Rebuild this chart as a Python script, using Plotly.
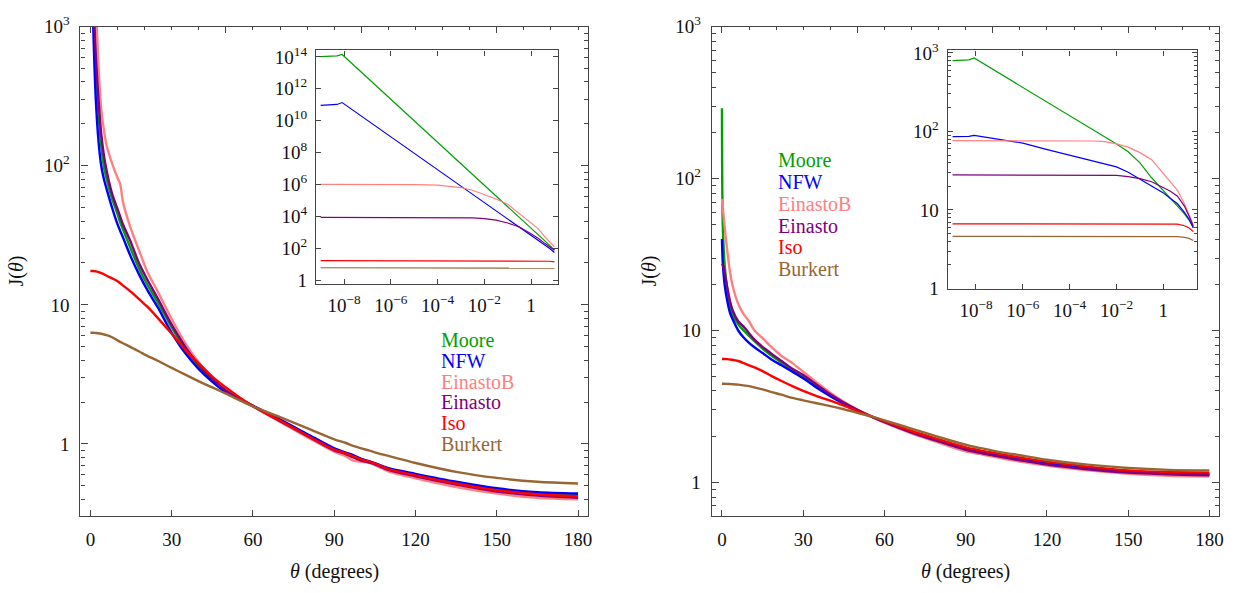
import plotly.graph_objects as go

W, H = 1242, 593

SERIES = ["Moore", "NFW", "EinastoB", "Einasto", "Iso", "Burkert"]
COLORS = ["#00A000", "#0000FF", "#FF8080", "#800080", "#FF0000", "#996633"]

# ---------------- left main panel ----------------
THETA_L = [0, 0.5, 1, 1.5, 2, 3, 4, 5, 6, 8, 10, 11, 12, 15, 18, 21, 25, 30, 35, 40,
           45, 50, 60, 70, 80, 90, 94, 97, 100, 103, 106, 110, 120, 135, 150, 165, 180]
MOORE_L = [1e5, 5000, 2000, 1000, 560, 240, 140, 98, 80, 58, 45, 39, 35, 25, 18.2, 14, 10.3, 6.9, 4.8, 3.6,
           2.9, 2.4, 1.88, 1.49, 1.17, 0.925, 0.865, 0.825, 0.775, 0.745, 0.71, 0.665, 0.6, 0.525, 0.47, 0.44, 0.43]
NFW_L = [1e5, 3000, 1100, 520, 300, 150, 100, 80, 68, 50, 38, 34, 30.6, 22, 16.5, 12.8, 9.5, 6.3, 4.5, 3.45,
         2.8, 2.35, 1.88, 1.5, 1.18, 0.93, 0.87, 0.83, 0.78, 0.75, 0.715, 0.67, 0.61, 0.535, 0.48, 0.45, 0.44]
EINB_L = [1e5, 1e4, 4500, 2500, 1500, 520, 256, 180, 140, 104, 82, 74, 55, 35, 24.5, 17.3, 12.3, 7.9, 5.3, 3.85,
          3.0, 2.45, 1.86, 1.44, 1.12, 0.88, 0.82, 0.76, 0.745, 0.73, 0.69, 0.635, 0.565, 0.49, 0.44, 0.41, 0.40]
EIN_L = [1e5, 4000, 1800, 1000, 620, 300, 170, 118, 92, 63, 49, 43, 38, 28, 19.8, 15.2, 11, 7.2, 5.0, 3.7,
         2.95, 2.42, 1.87, 1.46, 1.14, 0.9, 0.85, 0.8, 0.76, 0.735, 0.7, 0.65, 0.585, 0.51, 0.455, 0.425, 0.41]
ISO_L = [17.5, 17.5, 17.5, 17.45, 17.4, 17.2, 16.9, 16.6, 16.2, 15.5, 14.8, 14.3, 13.8, 12.4, 11, 9.7, 8.0, 6.2, 4.75, 3.8,
         3.05, 2.55, 1.87, 1.47, 1.15, 0.91, 0.86, 0.815, 0.775, 0.745, 0.71, 0.66, 0.595, 0.52, 0.465, 0.435, 0.42]
BUR_L = [6.3, 6.3, 6.3, 6.29, 6.28, 6.25, 6.2, 6.12, 6.05, 5.85, 5.55, 5.42, 5.3, 4.95, 4.62, 4.3, 3.95, 3.52, 3.15, 2.82,
         2.55, 2.3, 1.86, 1.56, 1.3, 1.08, 1.02, 0.97, 0.93, 0.895, 0.86, 0.82, 0.73, 0.63, 0.57, 0.535, 0.52]

# ---------------- right main panel ----------------
THETA_R = [0, 0.3, 1, 2, 3, 4, 6, 8, 10, 12, 15, 18, 22, 26, 30, 35, 40, 45, 50, 55,
           60, 70, 80, 90, 95, 98, 100, 105, 110, 120, 135, 150, 165, 180]
MOORE_R = [290, 50, 27, 18.5, 14.5, 12.6, 11, 10, 9.2, 8.5, 7.6, 6.9, 6.15, 5.5, 5.0, 4.3, 3.75, 3.33, 3.0, 2.72,
           2.5, 2.15, 1.89, 1.67, 1.6, 1.56, 1.535, 1.48, 1.43, 1.34, 1.245, 1.185, 1.15, 1.135]
NFW_R = [40, 28, 20, 15.5, 13, 11.8, 10, 9.0, 8.3, 7.75, 7.1, 6.5, 5.9, 5.35, 4.85, 4.2, 3.7, 3.3, 2.98, 2.72,
         2.5, 2.14, 1.88, 1.66, 1.59, 1.555, 1.53, 1.47, 1.42, 1.33, 1.24, 1.18, 1.145, 1.13]
EINB_R = [73.5, 65, 48, 33, 24, 19.5, 15, 12.8, 11.5, 10.0, 8.9, 7.85, 6.8, 6.1, 5.35, 4.55, 3.9, 3.4, 3.02, 2.72,
          2.47, 2.1, 1.83, 1.6, 1.54, 1.5, 1.48, 1.42, 1.37, 1.29, 1.2, 1.14, 1.105, 1.095]
EIN_R = [27.5, 27, 24, 19, 15.5, 13.5, 11.5, 10.6, 9.6, 8.7, 7.8, 7.1, 6.3, 5.6, 5.1, 4.4, 3.8, 3.35, 3.0, 2.72,
         2.49, 2.13, 1.86, 1.64, 1.57, 1.53, 1.51, 1.45, 1.4, 1.31, 1.22, 1.16, 1.13, 1.115]
ISO_R = [6.5, 6.5, 6.5, 6.48, 6.45, 6.4, 6.3, 6.1, 5.9, 5.72, 5.4, 5.05, 4.65, 4.3, 4.0, 3.7, 3.45, 3.2, 2.95, 2.73,
         2.53, 2.18, 1.92, 1.7, 1.63, 1.59, 1.57, 1.51, 1.46, 1.37, 1.27, 1.2, 1.17, 1.16]
BUR_R = [4.46, 4.46, 4.46, 4.45, 4.44, 4.43, 4.4, 4.35, 4.3, 4.22, 4.1, 3.95, 3.78, 3.6, 3.47, 3.32, 3.18, 3.03, 2.87, 2.72,
         2.56, 2.26, 1.99, 1.77, 1.69, 1.65, 1.62, 1.56, 1.51, 1.41, 1.31, 1.245, 1.21, 1.2]

# ---------------- left inset ----------------
THETA_IL = [1e-9, 2.5e-9, 5e-9, 8.3e-9, 1e-7, 1e-6, 1e-5, 1e-4, 1e-3, 3.16e-3, 1e-2, 3.16e-2, 0.1, 0.316,
            1, 2, 4, 6.3, 10]
MOORE_IL = [1.05e14, 1.07e14, 1.15e14, 1.41e14, 5.0e12, 2.24e11, 1.0e10, 4.57e8, 2.09e7, 4.37e6, 9.33e5, 2.0e5,
            4.27e4, 9.12e3, 1.91e3, 759, 295, 158, 79]
NFW_IL = [9.33e10, 9.55e10, 1.05e11, 1.38e11, 1.07e10, 1.0e9, 9.33e7, 8.71e6, 8.13e5, 2.51e5, 7.59e4, 2.34e4,
          7.08e3, 2.14e3, 661, 316, 158, 100, 56]
EINB_IL = [1.05e6, 1.05e6, 1.05e6, 1.05e6, 1.05e6, 1.05e6, 1.02e6, 9.33e5, 6.61e5, 4.47e5, 2.51e5, 1.26e5,
           6.03e4, 1.58e4, 4.47e3, 1.78e3, 513, 251, 126]
EIN_IL = [8.91e3, 8.91e3, 8.91e3, 8.91e3, 8.91e3, 8.91e3, 8.91e3, 8.91e3, 8.91e3, 8.32e3, 7.41e3, 6.03e3,
          3.98e3, 2.24e3, 851, 447, 204, 126, 79]
ISO_IL = [17.5, 17.5, 17.5, 17.5, 17.5, 17.5, 17.5, 17.5, 17.5, 17.5, 17.5, 17.5, 17.5, 17.5, 17.5,
          17.2, 16.8, 16.0, 14.8]
BUR_IL = [6.3, 6.3, 6.3, 6.3, 6.3, 6.3, 6.3, 6.3, 6.3, 6.3, 6.3, 6.3, 6.3, 6.3, 6.3,
          6.25, 6.2, 6.1, 5.9]

# ---------------- right inset ----------------
THETA_IR = [1e-9, 2.5e-9, 5e-9, 8.3e-9, 1e-7, 1e-6, 1e-5, 1e-4, 1e-3, 3.16e-3, 1e-2, 3.16e-2, 0.1, 0.316,
            1, 2, 4, 7.9, 12.6, 19]
MOORE_IR = [798, 804, 813, 859, 550, 363, 240, 158, 105, 85, 69, 55, 39.8, 25.7, 17.8, 14.1, 11.2, 8.9, 7.4, 5.96]
NFW_IR = [86, 86, 86.5, 89, 79, 71, 59, 50, 41.7, 38.5, 35.4, 30.2, 24.5, 20, 16.5, 14, 12, 9.3, 7.6, 5.96]
EINB_IR = [76.4, 76.4, 76.4, 76.4, 76.4, 76.4, 76.4, 76.2, 75.5, 74, 69.5, 63, 53.7, 43.7, 28.8, 22.5, 17.8, 12,
           8.9, 6.5]
EIN_IR = [28, 28, 28, 28, 28, 28, 28, 28, 28, 28, 27.5, 26.6, 25.1, 22.9, 19, 17.3, 15, 11.2, 8.3, 6.2]
ISO_IR = [6.67, 6.67, 6.67, 6.67, 6.67, 6.67, 6.67, 6.67, 6.67, 6.67, 6.67, 6.67, 6.67, 6.67, 6.67,
          6.65, 6.6, 6.3, 5.9, 5.3]
BUR_IR = [4.62, 4.62, 4.62, 4.62, 4.62, 4.62, 4.62, 4.62, 4.62, 4.62, 4.62, 4.62, 4.62, 4.62, 4.62,
          4.61, 4.58, 4.48, 4.35, 4.08]

X_TICKS = [0, 30, 60, 90, 120, 150, 180]
INSET_X_TICKS = [1e-8, 1e-6, 1e-4, 1e-2, 1]
INSET_X_TEXT = ["10<sup>\u22128</sup>", "10<sup>\u22126</sup>", "10<sup>\u22124</sup>", "10<sup>\u22122</sup>", "1"]
INSET_L_Y_TICKS = [1, 1e2, 1e4, 1e6, 1e8, 1e10, 1e12, 1e14]
INSET_L_Y_TEXT = ["1", "10<sup>2</sup>", "10<sup>4</sup>", "10<sup>6</sup>", "10<sup>8</sup>",
                  "10<sup>10</sup>", "10<sup>12</sup>", "10<sup>14</sup>"]
DEC_TICKS = [1, 10, 100, 1000]
DEC_TEXT = ["1", "10", "10<sup>2</sup>", "10<sup>3</sup>"]

panels = [
    ("x", "y", THETA_L, [MOORE_L, NFW_L, EINB_L, EIN_L, ISO_L, BUR_L], 2.4, "spline"),
    ("x2", "y2", THETA_R, [MOORE_R, NFW_R, EINB_R, EIN_R, ISO_R, BUR_R], 2.4, "spline"),
    ("x3", "y3", THETA_IL, [MOORE_IL, NFW_IL, EINB_IL, EIN_IL, ISO_IL, BUR_IL], 1.2, "linear"),
    ("x4", "y4", THETA_IR, [MOORE_IR, NFW_IR, EINB_IR, EIN_IR, ISO_IR, BUR_IR], 1.2, "linear"),
]

fig = go.Figure()
for xa, ya, xs, ylist, lw, shape in panels:
    for name, col, ys in zip(SERIES, COLORS, ylist):
        line = dict(color=col, width=lw, shape=shape)
        if shape == "spline":
            line["smoothing"] = 0.8
        fig.add_trace(go.Scatter(x=xs, y=ys, xaxis=xa, yaxis=ya, mode="lines", name=name,
                                 line=line, showlegend=False, hoverinfo="skip"))

# invisible traces to anchor the top tick axes
fig.add_trace(go.Scatter(x=[0], y=[1], xaxis="x5", yaxis="y", mode="markers",
                         marker=dict(opacity=0), showlegend=False, hoverinfo="skip"))
fig.add_trace(go.Scatter(x=[0], y=[1], xaxis="x6", yaxis="y2", mode="markers",
                         marker=dict(opacity=0), showlegend=False, hoverinfo="skip"))

FONT = "'Liberation Serif', 'Times New Roman', Times, serif"
TICKFONT = dict(family=FONT, size=19, color="#111")
LINE = dict(showline=True, linecolor="#444", linewidth=1.2, showgrid=False, zeroline=False)


def px_x(p):
    return p / W


def px_y(p):
    return 1 - p / H


def minor_log(lo, hi):
    vals = []
    d = lo
    while d < hi:
        for k in range(2, 10):
            vals.append(k * d)
        d *= 10
    return vals


LX = [px_x(80.7), px_x(590)]
RX = [px_x(714), px_x(1223.3)]
MY = [px_y(523.3), px_y(14.2)]

top_minor = [10, 20, 30, 40, 60, 70, 80, 90, 110, 120, 130, 140, 160, 170, 180]

fig.update_layout(
    width=W, height=H, margin=dict(l=0, r=0, t=0, b=0),
    paper_bgcolor="white", plot_bgcolor="rgba(0,0,0,0)",
    font=dict(family=FONT, size=19, color="#111"),
    xaxis=dict(domain=LX, anchor="y", range=[-3.67, 183.7], tickmode="array", tickvals=X_TICKS,
               ticks="inside", ticklen=6, tickcolor="#444", mirror=True, tickfont=TICKFONT,
               ticklabelstandoff=6, **LINE),
    xaxis5=dict(domain=LX, anchor="y", overlaying="x", side="top", range=[-3.67, 183.7],
                tickmode="array", tickvals=[0, 50, 100, 150], ticks="inside", ticklen=6, tickcolor="#444",
                showticklabels=False, showline=False, showgrid=False, zeroline=False,
                minor=dict(tickmode="array", tickvals=top_minor, ticks="inside", ticklen=3.5, tickcolor="#444")),
    yaxis=dict(domain=MY, anchor="x", type="log", range=[-0.518, 3.0], tickmode="array",
               tickvals=DEC_TICKS, ticktext=DEC_TEXT, ticks="inside", ticklen=7, tickcolor="#444",
               mirror="ticks", tickfont=TICKFONT, ticklabelstandoff=6,
               minor=dict(tickmode="array", tickvals=minor_log(0.1, 1000), ticks="inside", ticklen=4,
                          tickcolor="#444"), **LINE),
    xaxis2=dict(domain=RX, anchor="y2", range=[-3.79, 183.68], tickmode="array", tickvals=X_TICKS,
                ticks="inside", ticklen=6, tickcolor="#444", mirror=True, tickfont=TICKFONT,
                ticklabelstandoff=6, **LINE),
    xaxis6=dict(domain=RX, anchor="y2", overlaying="x2", side="top", range=[-3.79, 183.68],
                tickmode="array", tickvals=[0, 50, 100, 150], ticks="inside", ticklen=6, tickcolor="#444",
                showticklabels=False, showline=False, showgrid=False, zeroline=False,
                minor=dict(tickmode="array", tickvals=top_minor, ticks="inside", ticklen=3.5, tickcolor="#444")),
    yaxis2=dict(domain=MY, anchor="x2", type="log", range=[-0.221, 3.0], tickmode="array",
                tickvals=DEC_TICKS, ticktext=DEC_TEXT, ticks="inside", ticklen=7, tickcolor="#444",
                mirror="ticks", tickfont=TICKFONT, ticklabelstandoff=6,
                minor=dict(tickmode="array", tickvals=minor_log(0.1, 1000), ticks="inside", ticklen=4,
                           tickcolor="#444"), **LINE),
    xaxis3=dict(domain=[px_x(317), px_x(559.5)], anchor="y3", type="log", range=[-9.2, 1.14],
                tickmode="array", tickvals=INSET_X_TICKS, ticktext=INSET_X_TEXT, ticks="inside", ticklen=5,
                tickcolor="#444", mirror="ticks", tickfont=TICKFONT, ticklabelstandoff=4, **LINE),
    yaxis3=dict(domain=[px_y(282), px_y(39)], anchor="x3", type="log", range=[-0.223, 14.40],
                tickmode="array", tickvals=INSET_L_Y_TICKS, ticktext=INSET_L_Y_TEXT, ticks="inside",
                ticklen=5, tickcolor="#444", mirror="ticks", tickfont=TICKFONT, ticklabelstandoff=4, **LINE),
    xaxis4=dict(domain=[px_x(950.7), px_x(1201.2)], anchor="y4", type="log", range=[-9.21, 1.45],
                tickmode="array", tickvals=INSET_X_TICKS, ticktext=INSET_X_TEXT, ticks="inside", ticklen=5,
                tickcolor="#444", mirror="ticks", tickfont=TICKFONT, ticklabelstandoff=4, **LINE),
    yaxis4=dict(domain=[px_y(287), px_y(39)], anchor="x4", type="log", range=[-0.004, 3.03],
                tickmode="array", tickvals=DEC_TICKS, ticktext=DEC_TEXT, ticks="inside", ticklen=5,
                tickcolor="#444", mirror="ticks", tickfont=TICKFONT, ticklabelstandoff=4,
                minor=dict(tickmode="array", tickvals=minor_log(1, 1000), ticks="inside", ticklen=3,
                           tickcolor="#444"), **LINE),
)

ann = []
# axis titles
for cx in (335.4, 968.8):
    ann.append(dict(x=px_x(cx), y=px_y(581), xref="paper", yref="paper", text="<i>\u03b8</i> (degrees)",
                    showarrow=False, xanchor="center", yanchor="middle",
                    font=dict(family=FONT, size=20, color="#111")))
for cx in (17, 652):
    ann.append(dict(x=px_x(cx), y=px_y(268), xref="paper", yref="paper", text="J(<i>\u03b8</i>)",
                    textangle=-90, showarrow=False, xanchor="center", yanchor="middle",
                    font=dict(family=FONT, size=20, color="#111")))

# legends as coloured text
LEG_L = (440, 340, 21.7)
LEG_R = (779, 152.7, 22.8)
for (lx, ly0, dy) in (LEG_L, LEG_R):
    for i, (name, col) in enumerate(zip(SERIES, COLORS)):
        ann.append(dict(x=px_x(lx), y=px_y(ly0 + i * dy), xref="paper", yref="paper", text=name,
                        showarrow=False, xanchor="left", yanchor="middle",
                        font=dict(family=FONT, size=20, color=col)))

fig.update_layout(annotations=ann)
fig.write_html("out.html")
